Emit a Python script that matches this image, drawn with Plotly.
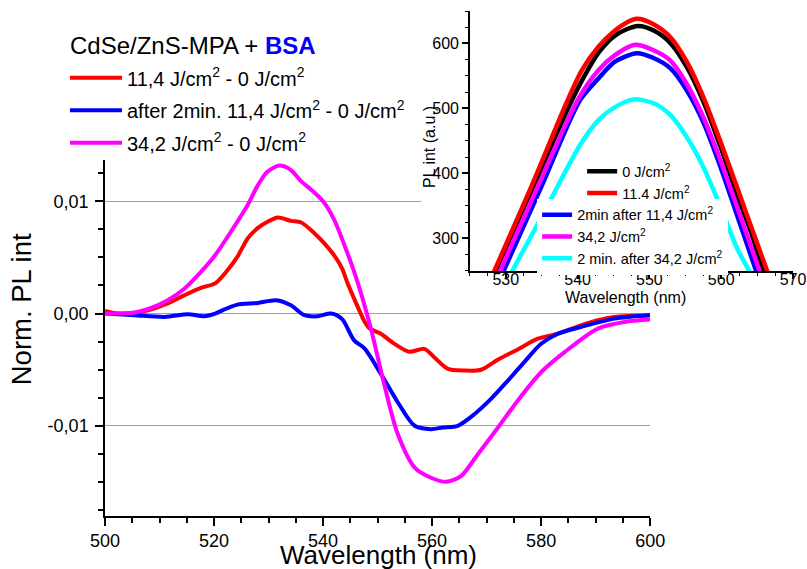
import plotly.graph_objects as go

# ---------------- main chart data (difference spectra, units of 1e-3) ----------------
red_wl = [500.0, 502.3, 505.4, 508.4, 511.5, 514.6, 517.6, 520.2, 522.5, 524.3, 526.2, 528.0, 529.9, 531.7,
          534.1, 536.0, 538.4, 540.2, 542.3, 543.5, 544.5, 546.0, 547.6, 548.5, 550.6, 553.1, 555.8, 558.6,
          560.4, 562.8, 565.9, 569.0, 572.1, 575.7, 579.4, 583.1, 587.3, 590.4, 593.4, 596.5, 600.0]
red_val = [0.23, 0.0, 0.05, 0.36, 0.90, 1.64, 2.29, 2.69, 3.88, 5.07, 6.71, 7.61, 8.20, 8.56,
           8.26, 8.11, 7.16, 6.27, 5.0, 4.0, 2.7, 1.0, -0.7, -1.3, -1.8, -2.7, -3.4, -3.15,
           -3.9, -4.9, -5.08, -5.01, -4.1, -3.2, -2.24, -1.79, -1.05, -0.6, -0.3, -0.2, -0.15]

blue_wl = [500.0, 505.4, 510.9, 515.2, 518.2, 520.2, 522.3, 524.3, 528.0, 531.4, 534.1, 536.6, 539.0, 541.5,
           543.5, 545.7, 547.6, 550.6, 553.7, 556.8, 559.8, 562.0, 564.7, 567.8, 570.8, 573.9, 576.9, 580.0,
           583.1, 587.3, 593.4, 600.0]
blue_val = [0.0, -0.15, -0.3, -0.06, -0.24, 0.0, 0.45, 0.8, 0.95, 1.19, 0.74, -0.15, -0.24, 0.0,
            -0.5, -2.39, -3.1, -5.37, -7.9, -10.0, -10.3, -10.15, -10.0, -8.95, -7.61, -5.97, -4.33, -2.69,
            -1.79, -1.2, -0.45, -0.15]

mag_wl = [500.0, 505.4, 508.2, 511.5, 514.6, 517.6, 520.2, 523.7, 526.2, 528.0, 529.7, 532.0, 534.0, 536.0,
          537.8, 540.0, 542.0, 544.0, 546.4, 548.8, 551.2, 553.7, 556.8, 559.8, 562.6, 565.3, 568.4, 572.1,
          575.7, 580.0, 584.3, 590.4, 595.3, 600.0]
mag_val = [0.0, 0.1, 0.45, 1.19, 2.24, 3.72, 5.2, 7.75, 9.7, 11.4, 12.6, 13.19, 12.83, 11.78,
           11.04, 10.0, 8.4, 6.0, 2.69, -1.4, -6.27, -10.74, -13.73, -14.63, -14.99, -14.48, -12.53, -10.15,
           -7.76, -5.23, -3.44, -1.34, -0.75, -0.54]

main_names = ["11,4 J/cm<sup>2</sup> - 0 J/cm<sup>2</sup>",
              "after 2min. 11,4 J/cm<sup>2</sup> - 0 J/cm<sup>2</sup>",
              "34,2 J/cm<sup>2</sup> - 0 J/cm<sup>2</sup>"]

# ---------------- inset data (PL int, a.u.) ----------------
ins_black_wl = [527.6, 528.6, 533.9, 539.0, 541.0, 543.0, 545.3, 548.4, 550.6, 552.9, 555.2, 557.5, 559.9,
                562.2, 564.3, 565.8, 566.7]
ins_black_val = [225, 250, 381, 508, 551, 587, 613, 627, 620, 601, 564, 511, 441, 367, 305, 250, 224]

ins_red_wl = [527.4, 528.4, 533.6, 538.5, 540.6, 542.9, 545.2, 546.8, 548.25, 550.5, 552.9, 555.2, 557.5,
              559.9, 562.2, 564.5, 566.4, 567.3]
ins_red_val = [225, 250, 381, 510, 559, 595, 620, 632, 638, 630, 610, 572, 518, 449, 379, 308, 250, 223]

ins_blue_wl = [528.7, 529.7, 535.0, 540.35, 542.9, 545.2, 548.25, 550.5, 552.9, 555.2, 557.5, 559.9, 562.2,
               564.0, 564.87, 565.7]
ins_blue_val = [225, 250, 381, 513, 546, 572, 585, 578, 562, 528, 479, 410, 336, 278, 250, 225]

ins_mag_wl = [528.2, 529.2, 534.5, 540.0, 542.9, 545.2, 548.0, 550.5, 552.9, 555.2, 557.5, 559.9, 562.2,
              564.5, 565.34, 566.2]
ins_mag_val = [225, 250, 381, 513, 559, 582, 598, 590, 574, 538, 487, 420, 349, 277, 250, 225]

ins_cyan_wl = [529.7, 530.9, 535.6, 540.3, 542.9, 545.2, 547.8, 550.6, 552.9, 555.2, 557.5, 559.9, 562.2,
               563.9, 565.0]
ins_cyan_val = [225, 250, 346, 443, 482, 502, 514, 508, 490, 456, 410, 349, 285, 250, 225]

ins_names = ["0 J/cm<sup>2</sup>", "11,4 J/cm<sup>2</sup>", "2min after 11,4 J/cm<sup>2</sup>",
             "34,2 J/cm<sup>2</sup>", "2 min. after 34,2 J/cm<sup>2</sup>"]

main_ticks = [-0.01, 0.0, 0.01]
main_ticktext = ["-0,01", "0,00", "0,01"]

FONT = "Liberation Sans, Arial, sans-serif"
RED, BLUE, MAG, BLACK, CYAN = "#ff0000", "#0000ff", "#ff00ff", "#000000", "#00ffff"

fig = go.Figure()

# main traces
for i, (wl, val, col) in enumerate([(red_wl, red_val, RED), (blue_wl, blue_val, BLUE), (mag_wl, mag_val, MAG)]):
    fig.add_trace(go.Scatter(x=wl, y=[v * 1e-3 for v in val], mode="lines", name=main_names[i],
                             line=dict(color=col, width=4, shape="spline", smoothing=0.8),
                             xaxis="x", yaxis="y", legend="legend", legendgroup="g%d" % i,
                             hoverinfo="skip"))

# inset traces (legend2: white box with the last three, legend3: first two, drawn on top)
ins_data = [(ins_black_wl, ins_black_val, BLACK, "legend3"),
            (ins_red_wl, ins_red_val, RED, "legend3"),
            (ins_blue_wl, ins_blue_val, BLUE, "legend2"),
            (ins_mag_wl, ins_mag_val, MAG, "legend2"),
            (ins_cyan_wl, ins_cyan_val, CYAN, "legend2")]
for i, (wl, val, col, lg) in enumerate(ins_data):
    fig.add_trace(go.Scatter(x=wl, y=val, mode="lines", name=ins_names[i],
                             line=dict(color=col, width=4.5, shape="spline", smoothing=0.8),
                             xaxis="x2", yaxis="y2", legend=lg, hoverinfo="skip"))

W, H = 807, 569
ml, mr, mt, mb = 105, 14.2, 10.8, 53.3
pw, ph = W - ml - mr, H - mt - mb


def px2x(px):
    return (px - ml) / pw


def px2y(py):
    return (H - mb - py) / ph


axis_common = dict(showline=True, linecolor="black", linewidth=1.5, ticks="outside",
                   tickcolor="black", tickwidth=1.5, zeroline=False, mirror=False, automargin=False)

fig.update_layout(
    width=W, height=H, autosize=False,
    margin=dict(l=ml, r=mr, t=mt, b=mb, pad=0, autoexpand=False),
    paper_bgcolor="white", plot_bgcolor="white",
    font=dict(family=FONT, color="black"),
    xaxis=dict(domain=[0, px2x(650)], range=[500, 600], anchor="y",
               tickmode="array", tickvals=[500, 520, 540, 560, 580, 600],
               ticklen=8, showgrid=False, tickfont=dict(size=18),
               minor=dict(dtick=5, tick0=500, ticklen=5, ticks="outside", tickcolor="black", tickwidth=1.5),
               **axis_common),
    xaxis3=dict(overlaying="x", anchor="y", range=[500, 600], tickmode="array",
                tickvals=[520, 540, 560, 580], showgrid=True, gridcolor="#a0a0a0", gridwidth=1,
                showticklabels=False, ticks="", showline=False, zeroline=False, automargin=False),
    yaxis=dict(domain=[0, px2y(160)], range=[-0.018039, 0.013663], anchor="x",
               tickmode="array", tickvals=main_ticks, ticktext=main_ticktext,
               ticklen=8, showgrid=True, gridcolor="#a0a0a0", gridwidth=1,
               tickfont=dict(size=18), ticklabelstandoff=3,
               minor=dict(dtick=0.0025, tick0=0, ticklen=5, ticks="outside", tickcolor="black", tickwidth=1.5),
               **axis_common),
    xaxis2=dict(domain=[px2x(469.8), 1], range=[525, 570], anchor="y2",
                tickmode="array", tickvals=[530, 540, 550, 560, 570], ticklen=6,
                showgrid=False, tickfont=dict(size=16), ticklabelstandoff=-13,
                minor=dict(dtick=2.5, tick0=525, ticklen=3, ticks="outside", tickcolor="black", tickwidth=1.2),
                **axis_common),
    yaxis2=dict(domain=[px2y(270.7), 1], range=[250, 650], anchor="x2",
                tickmode="array", tickvals=[300, 400, 500, 600], ticklen=6,
                showgrid=False, tickfont=dict(size=16),
                minor=dict(dtick=25, tick0=250, ticklen=3, ticks="outside", tickcolor="black", tickwidth=1.2),
                **axis_common),
    legend=dict(x=px2x(65), y=px2y(58), xanchor="left", yanchor="top",
                bgcolor="rgba(0,0,0,0)", font=dict(size=20, family=FONT),
                itemwidth=52, tracegroupgap=3.5, traceorder="grouped"),
    legend2=dict(x=px2x(537), y=px2y(198.5), xanchor="left", yanchor="top",
                 bgcolor="white", font=dict(size=14.5, family=FONT), traceorder="normal"),
    legend3=dict(x=px2x(582), y=px2y(155), xanchor="left", yanchor="top",
                 bgcolor="rgba(0,0,0,0)", font=dict(size=14.5, family=FONT), traceorder="normal"),
    showlegend=True,
)

# white backdrop of the inset over the main grid
fig.add_shape(type="rect", xref="x", yref="y", x0=558.0, x1=605, y0=0.00047, y1=0.02,
              fillcolor="white", line=dict(width=0), layer="between")

annotations = [
    dict(text="CdSe/ZnS-MPA + <span style='color:#0000ff'><b>BSA</b></span>",
         x=px2x(68), y=px2y(45), xanchor="left", yanchor="middle", font=dict(size=24)),
    dict(text="Norm. PL int", textangle=-90, x=px2x(21), y=px2y(309),
         xanchor="center", yanchor="middle", font=dict(size=27.5)),
    dict(text="Wavelength (nm)", x=px2x(378), y=px2y(538), xanchor="center", yanchor="top",
         font=dict(size=26)),
    dict(text="PL int (a.u.)", textangle=-90, x=px2x(430), y=px2y(146.7),
         xanchor="center", yanchor="middle", font=dict(size=16)),
    dict(text="Wavelength (nm)", x=px2x(625), y=px2y(297), xanchor="center", yanchor="middle",
         font=dict(size=16)),
]
for a in annotations:
    a.update(xref="paper", yref="paper", showarrow=False)
    a["font"]["family"] = FONT
    a["font"]["color"] = "black"
    fig.add_annotation(**a)

fig.write_html("out.html")
